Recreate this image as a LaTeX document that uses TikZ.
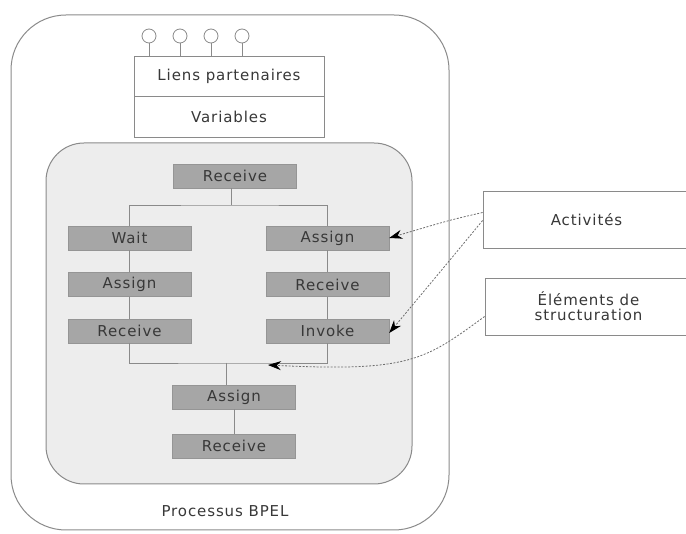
\documentclass[tikz,border=0pt]{standalone}
\usepackage{fontspec}
\setmainfont{DejaVu Sans}[LetterSpace=6]
\usetikzlibrary{positioning, arrows.meta}

\definecolor{trait}{HTML}{8A8A8A}
\definecolor{gris}{HTML}{A6A6A6}
\definecolor{fond}{HTML}{EDEDED}
\definecolor{texte}{HTML}{383838}

\begin{document}
\begin{tikzpicture}[x=1pt, y=-1pt, node distance=46.5pt, on grid,
   font=\fontsize{15}{18}\selectfont, text=texte,
   cadre/.style={draw=trait, line width=1pt},
   activite/.style={draw=gris!90!black, line width=0.4pt, fill=gris, minimum width=123pt, minimum height=24pt, inner sep=0pt},
   boite/.style={draw=trait, line width=0.8pt, fill=white, minimum width=190pt, minimum height=40.5pt, inner sep=0pt},
   note/.style={draw=trait, line width=0.8pt, fill=white, minimum width=207pt, minimum height=57pt, inner sep=0pt, align=center},
   port/.style={circle, draw=trait, line width=0.8pt, fill=white, minimum size=14pt, inner sep=0pt},
   lien/.style={draw=trait, line width=0.7pt},
   renvoi/.style={draw=trait!80!black, line width=0.8pt, dash pattern=on 2pt off 1.5pt, -{Stealth[length=13pt, width=9pt, black]}}] 

   \useasboundingbox (0,0) rectangle (686,534);

   % processus et sequence principale
   \draw[cadre, rounded corners=55pt] (11,15) rectangle (449,530);
   \draw[cadre, fill=fond, rounded corners=38pt] (46,143) rectangle (412,484);
   \node at (225,511) {Processus BPEL};

   % liens partenaires et variables
   \node[boite] (liens) at (229,76.5) {Liens partenaires};
   \node[boite] (vars) [below=40.5pt of liens] {Variables};
   \foreach \i/\x in {1/149, 2/180, 3/211, 4/242} {
      \node[port] (p\i) at (\x,36) {};
      \draw[lien] (p\i) -- (p\i |- liens.north);
   }

   % activites
   \node[activite] (recv1) at (235,176) {Receive};
   \node[activite] (wait) at (129.5,238) {Wait};
   \node[activite] (assign1) [below=of wait] {Assign};
   \node[activite] (recv2) [below=of assign1] {Receive};
   \node[activite] (assign2) at (327.5,238) {Assign};
   \node[activite] (recv3) [below=of assign2] {Receive};
   \node[activite] (invoke) [below=of recv3] {Invoke};
   \node[activite] (assign3) at (234,397) {Assign};
   \node[activite] (recv4) [below=49pt of assign3] {Receive};

   % elements de structuration (flow)
   \coordinate (split) at (231,205);
   \coordinate (join) at (226,363);
   \draw[lien] (recv1.south -| split) -- (split);
   \draw[lien] (wait.north) |- (split) -| (assign2.north);
   \draw[lien] (wait.south) -- (assign1.north);
   \draw[lien] (assign1.south) -- (recv2.north);
   \draw[lien] (assign2.south) -- (recv3.north);
   \draw[lien] (recv3.south) -- (invoke.north);
   \draw[lien] (recv2.south) |- (join) -| (invoke.south);
   \draw[lien] (join) -- (join |- assign3.north);
   \draw[lien] (assign3.south) -- (recv4.north);

   % legende
   \node[note] (activites) at (586.5,219.5) {Activités};
   \node[note] (elements) at (588.5,306.5) {Éléments de\\[-3pt]structuration};
   \coordinate (cible) at (268,365);

   \draw[renvoi] ([yshift=7pt]activites.west) .. controls (450,220) .. (assign2.east);
   \draw[renvoi] ([yshift=-1pt]activites.west) .. controls (450,260) .. ([yshift=-2pt]invoke.east);
   \draw[renvoi] ([yshift=-10pt]elements.west) .. controls (425,360) and (410,372) .. (cible);

\end{tikzpicture}
\end{document}
